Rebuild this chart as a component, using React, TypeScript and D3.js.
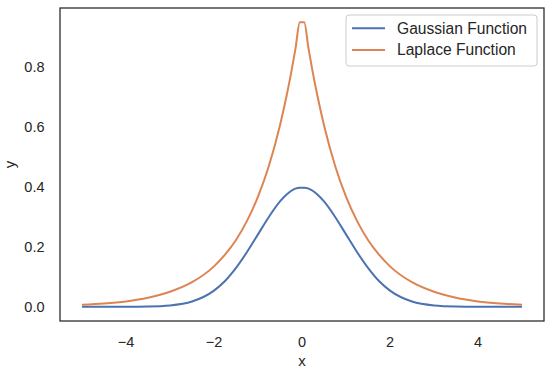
import React from 'react';
import * as d3 from 'd3';

// sample positions along x
const xs = [-5, -4.5, -4, -3.5, -3, -2.5, -2, -1.75, -1.5, -1.25, -1, -0.75, -0.5, -0.35, -0.25, -0.15, -0.05,
  0.05, 0.15, 0.25, 0.35, 0.5, 0.75, 1, 1.25, 1.5, 1.75, 2, 2.5, 3, 3.5, 4, 4.5, 5];

// values
const gaussian = [0.0, 0.0, 0.0001, 0.0009, 0.0044, 0.0175, 0.054, 0.086, 0.13, 0.183, 0.242, 0.301, 0.352, 0.375, 0.387, 0.395, 0.398,
  0.398, 0.395, 0.387, 0.375, 0.352, 0.301, 0.242, 0.183, 0.13, 0.086, 0.054, 0.0175, 0.0044, 0.0009, 0.0001, 0.0, 0.0];
const laplace = [0.0067, 0.011, 0.018, 0.03, 0.05, 0.082, 0.135, 0.174, 0.223, 0.287, 0.368, 0.472, 0.607, 0.705, 0.779, 0.861, 0.951,
  0.951, 0.861, 0.779, 0.705, 0.607, 0.472, 0.368, 0.287, 0.223, 0.174, 0.135, 0.082, 0.05, 0.03, 0.018, 0.011, 0.0067];

const xTicks = [-4, -2, 0, 2, 4];
const yTicks = [0.0, 0.2, 0.4, 0.6, 0.8];
const seriesNames = ['Gaussian Function', 'Laplace Function'];
const colors = ['#4c72b0', '#dd8452'];

const W = 550;
const H = 371;
const left = 60, right = 544, top = 8, bottom = 321;
const font = 'Liberation Sans, Arial, sans-serif';
const textColor = '#262626';

export default function App() {
  const x = d3.scaleLinear().domain([-5.5, 5.5]).range([left, right]);
  const y = d3.scaleLinear().domain([-0.04755, 0.9985]).range([bottom, top]);

  const line = d3.line<number>()
    .x((_, i) => x(xs[i]))
    .y((d) => y(d))
    .curve(d3.curveMonotoneX);

  const series = [gaussian, laplace];

  return (
    <svg width={W} height={H} style={{ position: 'absolute', left: 0, top: 0 }}>
      <rect width={W} height={H} fill="#fff" />
      <g>
        {series.map((s, i) => (
          <path key={i} d={line(s) || ''} fill="none" stroke={colors[i]} strokeWidth={2} />
        ))}
      </g>
      <rect x={left} y={top} width={right - left} height={bottom - top}
        fill="none" stroke={textColor} strokeWidth={1.25} />
      {xTicks.map((t) => (
        <text key={t} x={x(t)} y={bottom + 26} textAnchor="middle" fontFamily={font}
          fontSize={14.5} fill={textColor}>{t < 0 ? '\u2212' + Math.abs(t) : t}</text>
      ))}
      {yTicks.map((t) => (
        <text key={t} x={left - 15.5} y={y(t)} dy="0.35em" textAnchor="end" fontFamily={font}
          fontSize={14.5} fill={textColor}>{t.toFixed(1)}</text>
      ))}
      <text x={(left + right) / 2} y={366} textAnchor="middle" fontFamily={font}
        fontSize={15} fill={textColor}>x</text>
      <text transform={`translate(15, ${(top + bottom) / 2}) rotate(-90)`} textAnchor="middle"
        fontFamily={font} fontSize={15} fill={textColor}>y</text>
      <g>
        <rect x={346} y={15} width={191} height={51} rx={3} fill="#fff" fillOpacity={0.8}
          stroke="#cccccc" strokeWidth={1} />
        {seriesNames.map((n, i) => (
          <g key={n} transform={`translate(0, ${28.3 + i * 21.7})`}>
            <line x1={352} x2={385} y1={0} y2={0} stroke={colors[i]} strokeWidth={2} />
            <text x={397} y={0} dy="0.35em" fontFamily={font} fontSize={15.6} fill={textColor}>{n}</text>
          </g>
        ))}
      </g>
    </svg>
  );
}
